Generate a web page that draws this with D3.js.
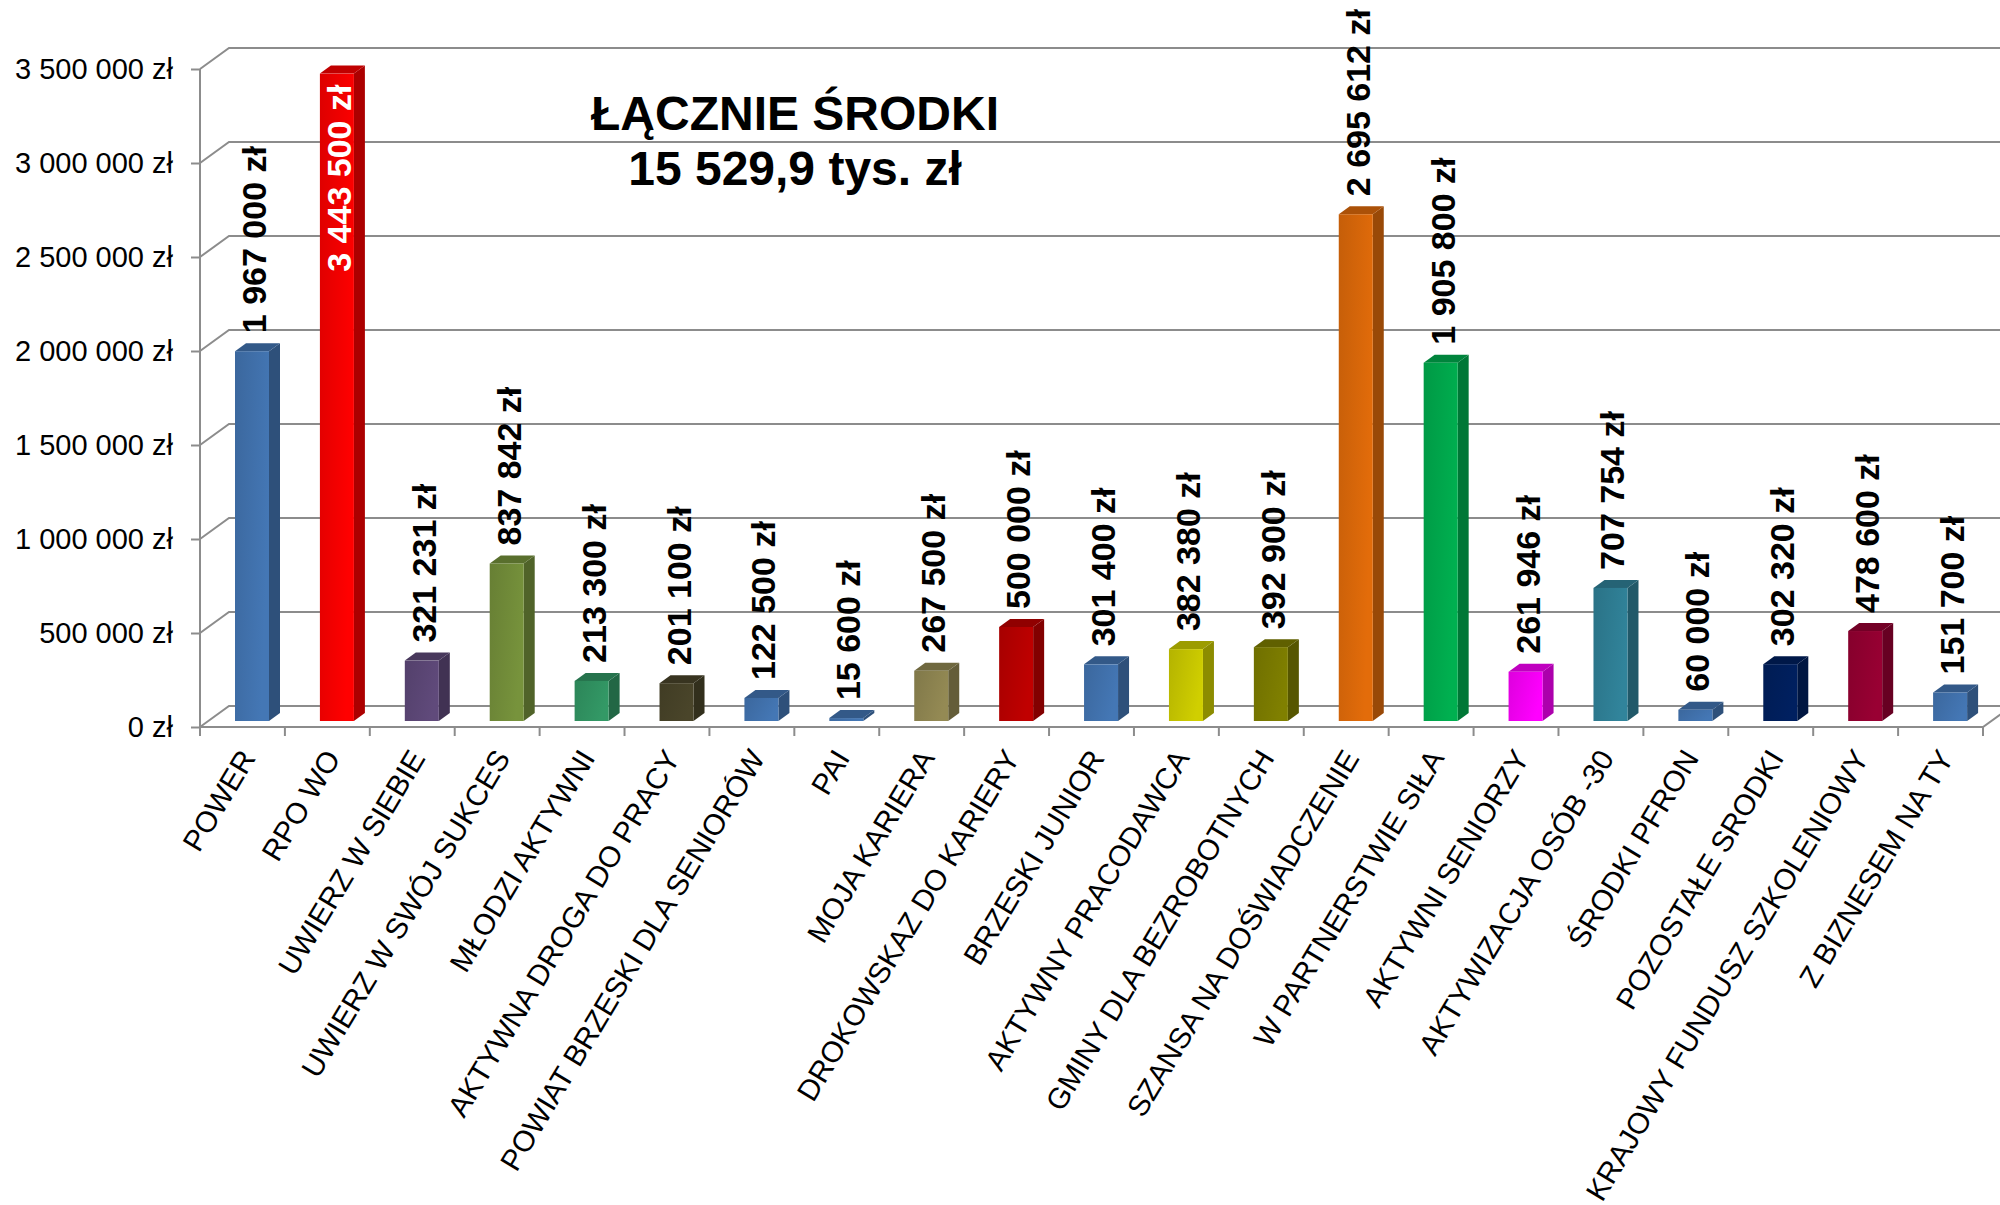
<!DOCTYPE html>
<html>
<head>
<meta charset="utf-8">
<script src="https://cdn.jsdelivr.net/npm/d3@7"></script>
<style>
  body { margin: 0; background: #fff; }
  svg { display: block; font-family: "Liberation Sans", Arial, sans-serif; }
</style>
</head>
<body>
<div id="chart"></div>
<script>
// Data
const categories = [
  "POWER", "RPO WO", "UWIERZ W SIEBIE", "UWIERZ W SWÓJ SUKCES", "MŁODZI AKTYWNI",
  "AKTYWNA DROGA DO PRACY", "POWIAT BRZESKI DLA SENIORÓW", "PAI", "MOJA KARIERA",
  "DROKOWSKAZ DO KARIERY", "BRZESKI JUNIOR", "AKTYWNY PRACODAWCA", "GMINY DLA BEZROBOTNYCH",
  "SZANSA NA DOŚWIADCZENIE", "W PARTNERSTWIE SIŁA", "AKTYWNI SENIORZY", "AKTYWIZACJA OSÓB -30",
  "ŚRODKI PFRON", "POZOSTAŁE SRODKI", "KRAJOWY FUNDUSZ SZKOLENIOWY", "Z BIZNESEM NA TY"
];
const values = [
  1967000, 3443500, 321231, 837842, 213300, 201100, 122500, 15600, 267500, 500000,
  301400, 382380, 392900, 2695612, 1905800, 261946, 707754, 60000, 302320, 478600, 151700
];
const barColors = [
  "#4477b5", "#ff0000", "#604a7b", "#77933c", "#339966", "#4a452a", "#4477b5", "#4477b5",
  "#948a54", "#c00000", "#4477b5", "#d0cf00", "#808000", "#e36c0a", "#00b050", "#ff00ff",
  "#31849b", "#4477b5", "#002060", "#990033", "#4477b5"
];
const yTicks = [0, 500000, 1000000, 1500000, 2000000, 2500000, 3000000, 3500000];
const titleLines = ["ŁĄCZNIE ŚRODKI", "15 529,9 tys. zł"];

const d3pl = d3.formatLocale({decimal: ",", thousands: " ", grouping: [3], currency: ["", " zł"]});
const fmt = d3pl.format("$,.0f");

// Layout
const W = 2000, H = 1205;
const cfg = {
  axisX: 200, floorEnd: 1983, y0: 727, yTop: 69,
  wall: {dx: 29, dy: -21},     // depth of the walls
  bar: {off: 35, w: 34, dx: 11, dy: -8, lift: 6},
  grid: "#8c8c8c"
};

const svg = d3.select("#chart").append("svg")
  .attr("width", W).attr("height", H);
svg.append("rect").attr("width", W).attr("height", H).attr("fill", "#fff");

const x = d3.scaleBand().domain(categories).range([cfg.axisX, cfg.floorEnd]);
const y = d3.scaleLinear().domain([0, 3500000]).range([cfg.y0, cfg.yTop]);

// Walls / gridlines
const grid = svg.append("g").attr("fill", "none").attr("stroke", cfg.grid).attr("stroke-width", 2);
grid.selectAll("path.gl")
  .data(yTicks)
  .enter().append("path")
  .attr("class", "gl")
  .attr("d", t => `M${cfg.axisX},${y(t)} L${cfg.axisX + cfg.wall.dx},${y(t) + cfg.wall.dy} H${W + 20}`);

grid.append("line")
  .attr("x1", cfg.axisX).attr("x2", cfg.axisX)
  .attr("y1", y(3500000)).attr("y2", y(0));

// Floor front edge
grid.append("path")
  .attr("d", `M${cfg.axisX},${y(0)} H${cfg.floorEnd} L${cfg.floorEnd + cfg.wall.dx},${y(0) + cfg.wall.dy}`);

// Category boundary ticks
const bounds = categories.map(c => x(c)).concat([cfg.floorEnd]);
grid.selectAll("line.xt")
  .data(bounds)
  .enter().append("line")
  .attr("class", "xt")
  .attr("x1", d => d).attr("x2", d => d)
  .attr("y1", y(0)).attr("y2", y(0) + 9);

// Y axis labels
const yAxis = svg.append("g")
  .attr("transform", `translate(${cfg.axisX},0)`)
  .call(d3.axisLeft(y).tickValues(yTicks).tickSize(9).tickPadding(18).tickFormat(fmt));
yAxis.select(".domain").remove();
yAxis.selectAll("line").attr("stroke", cfg.grid).attr("stroke-width", 2);
yAxis.selectAll("text").attr("font-size", 29).attr("fill", "#000")
  .attr("font-family", "'Liberation Sans', Arial, sans-serif");

// Gradients
const defs = svg.append("defs");
barColors.forEach((c, i) => {
  const g = defs.append("linearGradient").attr("id", "grad" + i)
    .attr("x1", "0%").attr("y1", "0%").attr("x2", "100%").attr("y2", "40%");
  g.append("stop").attr("offset", "0%").attr("stop-color", d3.color(c).darker(0.4));
  g.append("stop").attr("offset", "100%").attr("stop-color", c);
});

// Bars
const b = cfg.bar;
const base = y(0) - b.lift;
const bars = svg.selectAll("g.bar")
  .data(values)
  .enter().append("g")
  .attr("class", "bar");

bars.each(function(v, i) {
  const g = d3.select(this);
  const x0 = x(categories[i]) + b.off, x1 = x0 + b.w;
  const top = y(v) - b.lift;
  const c = barColors[i];
  g.append("polygon")
    .attr("points", `${x1},${top} ${x1 + b.dx},${top + b.dy} ${x1 + b.dx},${base + b.dy} ${x1},${base}`)
    .attr("fill", d3.color(c).darker(1.1));
  g.append("polygon")
    .attr("points", `${x0},${top} ${x0 + b.dx},${top + b.dy} ${x1 + b.dx},${top + b.dy} ${x1},${top}`)
    .attr("fill", d3.color(c).darker(0.8));
  g.append("rect")
    .attr("x", x0).attr("y", top)
    .attr("width", b.w).attr("height", base - top)
    .attr("fill", `url(#grad${i})`);
});

// Value labels
const valFont = 34;
svg.selectAll("text.val")
  .data(values)
  .enter().append("text")
  .attr("class", "val")
  .attr("font-size", valFont)
  .attr("font-weight", "bold")
  .text(d => fmt(d))
  .each(function(v, i) {
    const t = d3.select(this);
    const len = this.getComputedTextLength();
    const xb = x(categories[i]) + b.off + 31;
    const top = y(v) - b.lift;
    let yy = top - 18, anchor = "start", fill = "#000";
    if (yy - len < 4) { yy = top + 11; anchor = "end"; fill = "#fff"; }
    t.attr("text-anchor", anchor).attr("fill", fill)
      .attr("transform", `translate(${xb},${yy}) rotate(-90)`);
  });

// Category labels
svg.selectAll("text.cat")
  .data(categories)
  .enter().append("text")
  .attr("class", "cat")
  .attr("font-size", 29.5)
  .attr("text-anchor", "end")
  .attr("transform", d => `translate(${x(d) + x.bandwidth() / 2 + 14},${y(0) + 31}) rotate(-59)`)
  .text(d => d);

// Title
svg.append("text")
  .attr("x", 795).attr("y", 130)
  .attr("text-anchor", "middle")
  .attr("font-size", 48).attr("font-weight", "bold")
  .selectAll("tspan")
  .data(titleLines)
  .enter().append("tspan")
  .attr("x", 795)
  .attr("dy", (d, i) => i === 0 ? 0 : 55)
  .text(d => d);
</script>
</body>
</html>
